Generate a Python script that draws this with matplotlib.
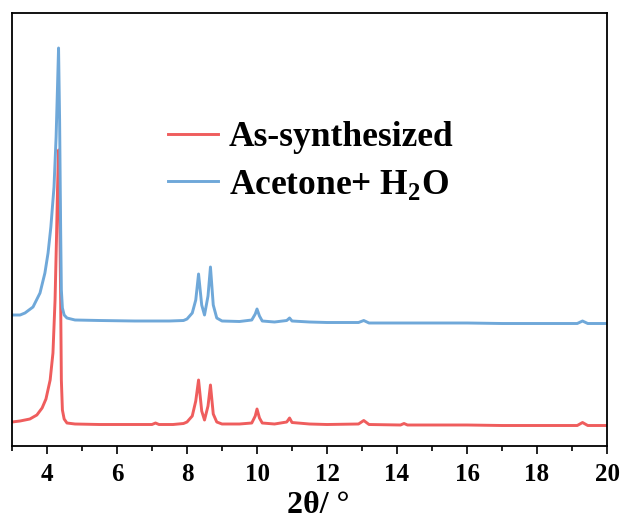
import matplotlib
matplotlib.use("Agg")
import matplotlib.pyplot as plt
from matplotlib.ticker import MultipleLocator

plt.rcParams['font.family'] = 'Liberation Serif'
plt.rcParams['font.weight'] = 'bold'
plt.rcParams['mathtext.fontset'] = 'custom'
plt.rcParams['mathtext.rm'] = 'Liberation Serif:bold'
plt.rcParams['mathtext.bf'] = 'Liberation Serif:bold'

# 2theta (deg) and intensity (a.u.)
tt_as = [3.00, 3.23, 3.51, 3.71, 3.86, 3.97, 4.09, 4.17, 4.23, 4.27, 4.30, 4.33,
         4.36, 4.39, 4.41, 4.44, 4.49, 4.57, 4.80, 5.5, 6.5, 7.0, 7.1, 7.2, 7.6,
         7.9, 8.0, 8.15, 8.25, 8.33, 8.42, 8.5, 8.6, 8.67, 8.75, 8.85, 9.0, 9.5,
         9.85, 9.95, 10.0, 10.07, 10.15, 10.5, 10.85, 10.93, 11.0, 11.5, 12.0,
         12.9, 13.05, 13.2, 14.1, 14.2, 14.3, 15, 16, 17, 18, 19.15, 19.3, 19.45, 20]
int_as = [24, 25, 27, 31, 38, 47, 66, 93, 146, 206, 256, 296,
          246, 146, 66, 36, 27, 23, 22, 21.5, 21.5, 21.5, 23, 21.5, 21.5,
          22.5, 24, 30, 45, 66, 35, 26, 40, 61, 32, 24, 22, 22,
          23, 30, 37, 28, 23, 22, 24, 28, 23.5, 22, 21.5,
          22, 25.5, 21.5, 21, 22.5, 21, 21, 21, 20.5, 20.5, 20.5, 23.5, 20.5, 20.5]

tt_ac = [3.00, 3.23, 3.37, 3.60, 3.80, 3.94, 4.03, 4.11, 4.20, 4.26, 4.30, 4.33,
         4.36, 4.39, 4.41, 4.44, 4.49, 4.57, 4.8, 5.5, 6.5, 7.5, 7.9, 8.0, 8.15,
         8.25, 8.33, 8.42, 8.5, 8.6, 8.67, 8.75, 8.85, 9.0, 9.5, 9.85, 9.95, 10.0,
         10.07, 10.15, 10.5, 10.85, 10.93, 11.0, 11.5, 12.0, 12.9, 13.05, 13.2,
         14, 15, 16, 17, 18, 19.15, 19.3, 19.45, 20]
int_ac = [131, 131, 133, 139, 153, 173, 193, 219, 259, 309, 359, 398,
          326, 216, 156, 138, 131, 128, 126, 125.5, 125, 125, 125.5, 127, 133,
          146, 172, 141, 131, 150, 179, 141, 128, 125, 124.5, 126, 132, 137,
          130, 125, 124, 125.5, 128, 125, 124, 123.5, 123.5, 125.5, 123,
          123, 123, 123, 122.5, 122.5, 122.5, 125, 122.5, 122.5]

labels = ['As-synthesized', r'Acetone+ H$_\mathbf{2}$O']

fig = plt.figure(figsize=(6.22, 5.2), dpi=100)
ax = fig.add_axes([0.0193, 0.1423, 0.9566, 0.8327])

ax.plot(tt_as, int_as, color='#EF5D5D', lw=2.1, label=labels[0])
ax.plot(tt_ac, int_ac, color='#6FA8D9', lw=2.1, label=labels[1])

ax.set_xlim(3, 20)
ax.set_ylim(0, 433)
ax.set_yticks([])
ax.xaxis.set_major_locator(MultipleLocator(2))
ax.xaxis.set_minor_locator(MultipleLocator(1))
ax.tick_params(axis='x', which='major', direction='out', length=6, width=1.2,
               labelsize=18, pad=6)
ax.tick_params(axis='x', which='minor', direction='out', length=3.5, width=1.2)
for s in ax.spines.values():
    s.set_linewidth(1.3)

ax.set_xlabel('2θ/ °', fontsize=23, fontweight='bold')
ax.xaxis.set_label_coords(0.514, -0.103)

leg = ax.legend(loc='upper left', bbox_to_anchor=(0.262, 0.75), frameon=False,
                fontsize=25.5, handlelength=1.42, handletextpad=0.3,
                labelspacing=0.38, borderpad=0, borderaxespad=0)

fig.savefig('out.png', dpi=100)
